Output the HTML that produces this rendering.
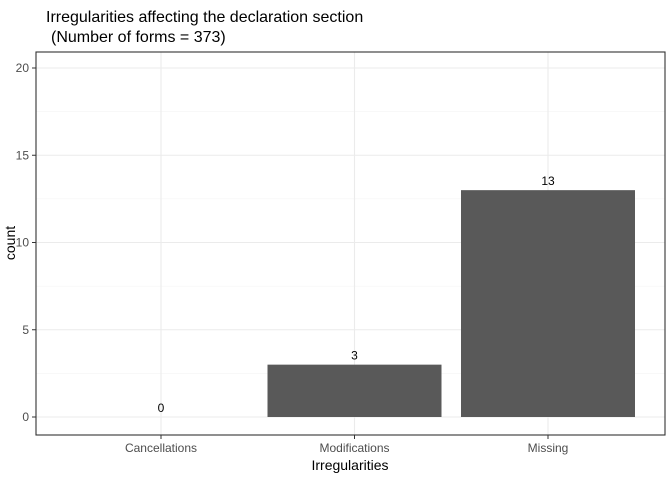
<!DOCTYPE html>
<html><head><meta charset="utf-8"><style>
body{margin:0;background:#fff;font-family:"Liberation Sans",Arial,sans-serif}
</style></head><body>
<svg width="672" height="480" xmlns="http://www.w3.org/2000/svg">
<rect width="672" height="480" fill="#fff"/>
<text x="46" y="22" font-size="16" fill="#000">Irregularities affecting the declaration section</text>
<text x="51" y="42" font-size="16" fill="#000">(Number of forms = 373)</text>
<g id="grid"></g>
<g id="bars"></g>
<rect x="36" y="52" width="629" height="383" fill="none" stroke="#333" stroke-width="1.1"/>
<g id="axes" font-size="12" fill="#4d4d4d"></g>
<text x="350" y="470" font-size="14" text-anchor="middle">Irregularities</text>
<text transform="translate(15,243) rotate(-90)" font-size="14" text-anchor="middle">count</text>
</svg>
<script>
const categories=["Cancellations","Modifications","Missing"];
const counts=[0,3,13];
const yTicks=[0,5,10,15,20];
const NS="http://www.w3.org/2000/svg";
const y=v=>417-v*17.45;
const x=i=>161+i*193.5;
const bw=174;
function mk(tag,attrs,parent,txt){const e=document.createElementNS(NS,tag);for(const k in attrs)e.setAttribute(k,attrs[k]);if(txt!==undefined)e.textContent=txt;document.getElementById(parent).appendChild(e);return e;}
for(let v=2.5;v<20;v+=5){const g=mk('line',{x1:36,x2:665,y1:y(v),y2:y(v),stroke:'#f2f2f2','stroke-width':0.6},'grid');

}
yTicks.forEach(v=>{const g=mk('line',{x1:36,x2:665,y1:y(v),y2:y(v),stroke:'#ebebeb','stroke-width':1.1},'grid');


const tk=mk('line',{x1:32,x2:36,y1:y(v),y2:y(v),stroke:'#333'},'axes');


const t=mk('text',{x:29,y:y(v)+4,'text-anchor':'end'},'axes',String(v));

});
categories.forEach((c,i)=>{const g=mk('line',{x1:x(i),x2:x(i),y1:52,y2:435,stroke:'#ebebeb','stroke-width':1.1},'grid');


const b=mk('rect',{x:x(i)-bw/2,y:y(counts[i]),width:bw,height:y(0)-y(counts[i]),fill:'#595959'},'bars');


const l=mk('text',{x:x(i),y:y(counts[i])-5,'text-anchor':'middle','font-size':12,fill:'#000'},'bars',String(counts[i]));


const tk=mk('line',{x1:x(i),x2:x(i),y1:435,y2:439,stroke:'#333'},'axes');


const t=mk('text',{x:x(i),y:452,'text-anchor':'middle'},'axes',c);

});
</script>
</body></html>
